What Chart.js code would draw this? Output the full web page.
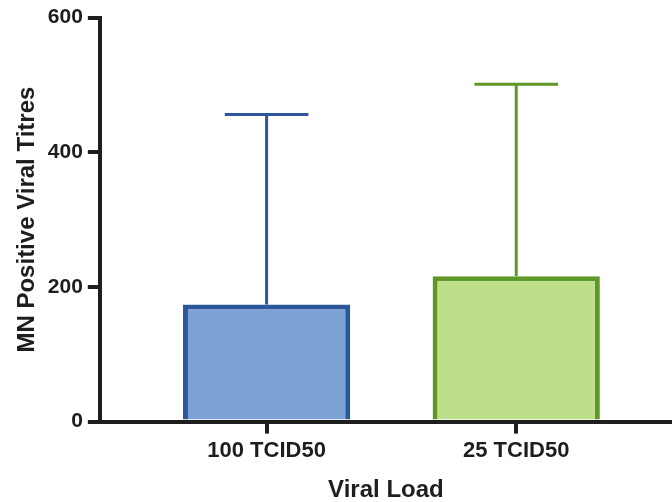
<!DOCTYPE html>
<html>
<head>
<meta charset="utf-8">
<script src="https://cdn.jsdelivr.net/npm/chart.js@4"></script>
<style>
  html, body { margin: 0; padding: 0; background: #fff; }
  #wrap { width: 672px; height: 502px; }
</style>
</head>
<body>
<div id="wrap"><canvas id="bar-chart"></canvas></div>
<script>
// values
var categories = ["100 TCID50", "25 TCID50"];
var means = [174, 216];
var errUp = [282, 285];
var yTicks = [0, 200, 400, 600];

var fills = ["#7ca1d5", "#bedf8a"];
var borders = ["#2d579b", "#5e9928"];
var ink = "#1e1e1e";
var font = "'Liberation Sans', Arial, sans-serif";

// upper-only error bars with a cap
var errorBars = {
  id: "errorBars",
  afterDatasetsDraw: function(chart) {
    var ctx = chart.ctx;
    var y = chart.scales.y;
    chart.getDatasetMeta(0).data.forEach(function(bar, i) {
      var top = y.getPixelForValue(means[i] + errUp[i]);
      var half = bar.width * 0.25;
      ctx.save();
      ctx.strokeStyle = borders[i];
      ctx.lineWidth = 3;
      ctx.beginPath();
      ctx.moveTo(bar.x, bar.y);
      ctx.lineTo(bar.x, top);
      ctx.moveTo(bar.x - half, top);
      ctx.lineTo(bar.x + half, top);
      ctx.stroke();
      ctx.restore();
    });
  }
};

new Chart(document.getElementById("bar-chart"), {
  type: "bar",
  data: {
    datasets: [{
      data: categories.map(function(c, i) { return { x: i + 1, y: means[i] }; }),
      backgroundColor: fills,
      borderColor: borders,
      borderWidth: 5,
      borderSkipped: "start",
      barPercentage: 1,
      categoryPercentage: 0.67
    }]
  },
  options: {
    responsive: true,
    maintainAspectRatio: false,
    animation: false,
    layout: { padding: { top: 8, right: 0, bottom: 0, left: 13 } },
    plugins: {
      legend: { display: false },
      tooltip: { enabled: false }
    },
    scales: {
      x: {
        type: "linear",
        offset: false,
        min: 0.332,
        max: 2.624,
        afterBuildTicks: function(s) {
          s.ticks = categories.map(function(c, i) { return { value: i + 1 }; });
        },
        ticks: {
          callback: function(v) { return categories[v - 1]; },
          color: ink,
          padding: 4,
          maxRotation: 0,
          font: { family: font, size: 22, weight: "bold" }
        },
        grid: { offset: false, drawOnChartArea: false, drawTicks: true, tickLength: 12, color: ink, lineWidth: 4, z: 1 },
        border: { display: true, color: ink, width: 4, z: 1 },
        title: {
          display: true,
          text: "Viral Load",
          color: ink,
          padding: { top: 10, bottom: 0 },
          font: { family: font, size: 24, weight: "bold", lineHeight: 1.0 }
        }
      },
      y: {
        min: 0,
        max: 600,
        afterBuildTicks: function(s) {
          s.ticks = yTicks.map(function(v) { return { value: v }; });
        },
        ticks: {
          color: ink,
          padding: 5,
          font: { family: font, size: 21, weight: "bold" }
        },
        grid: { drawOnChartArea: false, drawTicks: true, tickLength: 12, color: ink, lineWidth: 4, z: 1 },
        border: { display: true, color: ink, width: 4, z: 1 },
        title: {
          display: true,
          text: "MN Positive Viral Titres",
          color: ink,
          padding: { top: 0, bottom: 1 },
          font: { family: font, size: 24, weight: "bold" }
        }
      }
    }
  },
  plugins: [errorBars]
});
</script>
</body>
</html>
